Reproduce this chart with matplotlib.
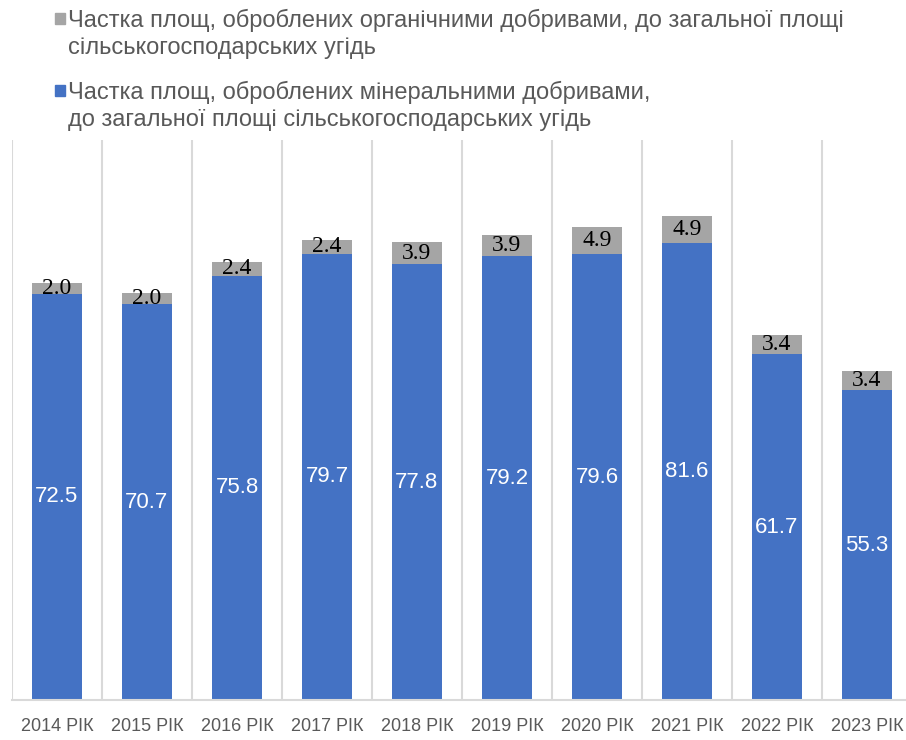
import matplotlib.pyplot as plt
from matplotlib.patches import Rectangle
import numpy as np

years = ['2014 РІК', '2015 РІК', '2016 РІК', '2017 РІК', '2018 РІК',
         '2019 РІК', '2020 РІК', '2021 РІК', '2022 РІК', '2023 РІК']
mineral = [72.5, 70.7, 75.8, 79.7, 77.8, 79.2, 79.6, 81.6, 61.7, 55.3]
organic = [2.0, 2.0, 2.4, 2.4, 3.9, 3.9, 4.9, 4.9, 3.4, 3.4]

label_org = ('Частка площ, оброблених органічними добривами, до загальної площі\n'
             'сільськогосподарських угідь')
label_min = ('Частка площ, оброблених мінеральними добривами,\n'
             'до загальної площі сільськогосподарських угідь')

blue = '#4472C4'
gray = '#A5A5A5'
text_gray = '#595959'
grid_gray = '#D9D9D9'
sans = ['Liberation Sans', 'DejaVu Sans']
serif = ['Liberation Serif', 'DejaVu Serif']

fig = plt.figure(figsize=(9.06, 7.40), dpi=100)
# plot area: left 12px, right 912px, top 140px, bottom 700px
ax = fig.add_axes([12 / 906, 40 / 740, 900 / 906, 560 / 740])

x = np.arange(len(years))
b1 = ax.bar(x, mineral, width=0.56, color=blue, zorder=2)
b2 = ax.bar(x, organic, width=0.56, bottom=mineral, color=gray, zorder=2)

ax.bar_label(b1, labels=[f'{v:.1f}' for v in mineral], label_type='center',
             color='white', fontsize=16, family=sans)
ax.bar_label(b2, labels=[f'{v:.1f}' for v in organic], label_type='center',
             color='black', fontsize=17, family=serif)

ax.set_xlim(-0.5, len(years) - 0.5)
ax.set_ylim(0, 100)
ax.set_yticks([])
ax.set_xticks(x)
ax.set_xticklabels(years, family=sans, fontsize=13, color=text_gray)
ax.tick_params(axis='x', length=0, pad=13)

# category separators
for sep in np.arange(-0.5, len(years), 1.0):
    ax.axvline(sep, color=grid_gray, lw=1.5, zorder=1)

for side in ['top', 'right', 'left']:
    ax.spines[side].set_visible(False)
ax.spines['bottom'].set_color(grid_gray)
ax.spines['bottom'].set_linewidth(1.5)

# legend drawn at the top
W, H = 906, 740
legend_items = [(gray, label_org, 20), (blue, label_min, 92)]
for color, text, ytop in legend_items:
    fig.patches.append(Rectangle((55 / W, 1 - (ytop + 4) / H), 10 / W, 11 / H,
                                 transform=fig.transFigure, color=color))
    fig.text(68 / W, 1 - (ytop - 11) / H, text, family=sans, fontsize=17,
             color=text_gray, va='top', ha='left', linespacing=1.3)

plt.savefig('out.png', dpi=100)
plt.close()
